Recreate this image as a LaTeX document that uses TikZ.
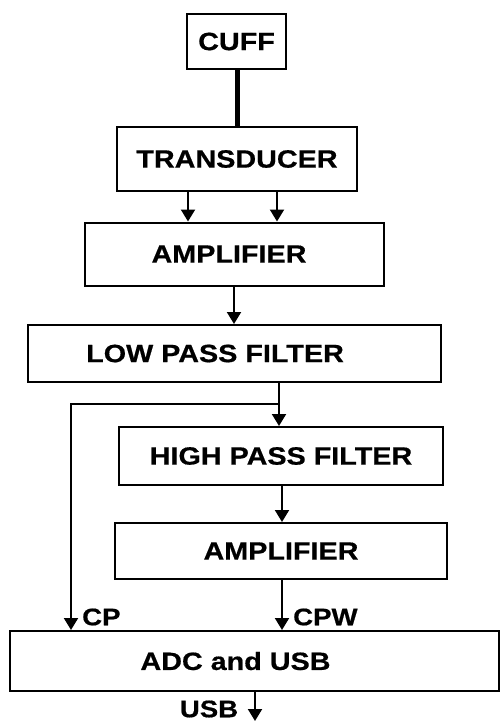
\documentclass[tikz,border=0pt]{standalone}
\usepackage{fontspec}
\newfontfamily\labfont{Liberation Sans}[FakeStretch=1.15,FakeBold=0.6]
\usetikzlibrary{arrows.meta}
\begin{document}
\begin{tikzpicture}[x=1pt,y=-1pt,
  blk/.style={draw,line width=2pt,inner sep=0pt,font=\labfont\bfseries\fontsize{25}{25}\selectfont},
  arr/.style={line width=2pt,-{Triangle[width=14pt,length=12pt]}},
  lnk/.style={line width=2pt},
  lab/.style={inner sep=0pt,font=\labfont\bfseries\fontsize{24}{24}\selectfont}]
\useasboundingbox (0,0) rectangle (500,722);
\node[blk,minimum width=99pt,minimum height=55pt] (cuff) at (236.5,41.5) {CUFF};
\node[blk,minimum width=240pt,minimum height=64pt] (trans) at (237,159) {TRANSDUCER};
\node[blk,minimum width=299pt,minimum height=63pt] (amp1) at (234.5,254) {AMPLIFIER\hspace*{11pt}};
\node[blk,minimum width=413pt,minimum height=57pt] (lpf) at (234.5,353.5) {LOW PASS FILTER\hspace*{39pt}};
\node[blk,minimum width=324pt,minimum height=58pt] (hpf) at (281,456) {HIGH PASS FILTER};
\node[blk,minimum width=332pt,minimum height=56pt] (amp2) at (281,551) {AMPLIFIER};
\node[blk,minimum width=489pt,minimum height=60pt] (adc) at (254.5,661) {ADC and USB\hspace*{38pt}};
\coordinate (jn) at (279,404);
\coordinate (usbend) at (255,721);
\node[lab,anchor=west] (cp) at (82,617) {CP};
\node[lab,anchor=west] (cpw) at (293,617) {CPW};
\node[lab] (usb) at (209,709) {USB};
% connectors
\draw[line width=5pt] (cuff.south -| 237,0) -- (trans.north -| 237,0);
\draw[arr] (trans.south -| 188,0) -- (amp1.north -| 188,0);
\draw[arr] (trans.south -| 277,0) -- (amp1.north -| 277,0);
\draw[arr] (amp1.south -| 234,0) -- (lpf.north -| 234,0);
\draw[lnk] (lpf.south -| jn) -- (jn);
\draw[arr] (jn) -- (hpf.north -| jn);
\draw[arr] (jn) -- (71,404) -- (adc.north -| 71,0);
\draw[arr] (hpf.south -| 282,0) -- (amp2.north -| 282,0);
\draw[arr] (amp2.south -| 282,0) -- (adc.north -| 282,0);
\draw[arr] (adc.south -| usbend) -- (usbend);
\end{tikzpicture}
\end{document}
